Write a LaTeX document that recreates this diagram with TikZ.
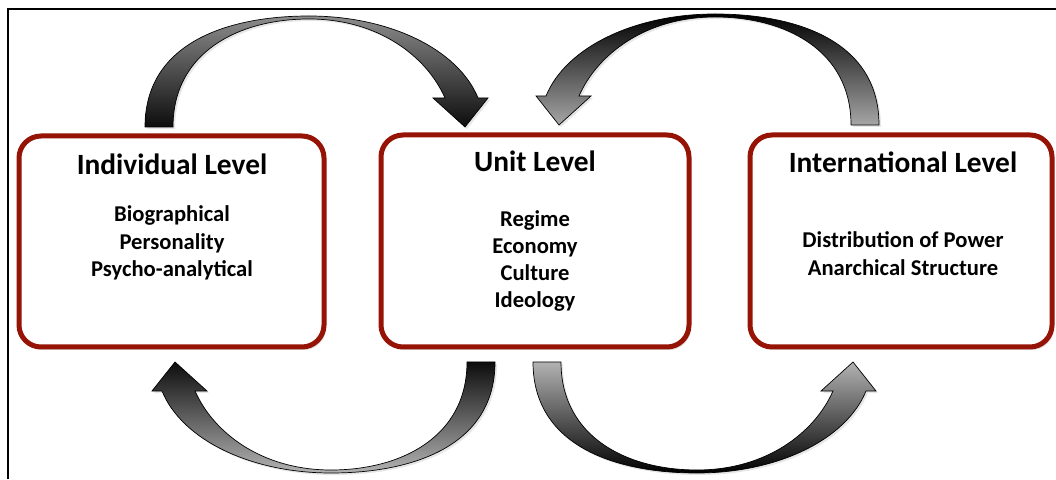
\documentclass[tikz,border=0pt]{standalone}
\usepackage{fontspec}
\setmainfont{Carlito}
\usepackage{tikz}
\usetikzlibrary{shadows}

\definecolor{boxred}{RGB}{150,20,5}

% one curved block arrow, tail centre at the origin, tip at (306,0)
\newcommand{\curvedarrow}[2]{%
  \begin{scope}[#1]
    \path [arr, #2]
      (-14,0) .. controls (-14,85) and (70,111) .. (150,111)
              .. controls (230,111) and (299,78) .. (319,29)
      -- (329,29) -- (306,0) -- (274,29) -- (286,29)
              .. controls (268,70) and (220,108) .. (150,108)
              .. controls (80,108) and (14,75) .. (14,0) -- cycle;
  \end{scope}}

\begin{document}
\begin{tikzpicture}[x=1pt,y=1pt,
    levelbox/.style={draw=boxred, line width=5pt, fill=white, rounded corners=22pt,
                     inner sep=0pt,
                     drop shadow={opacity=0.25, shadow xshift=2pt, shadow yshift=-3pt}},
    title/.style={font=\fontsize{29.4}{35}\selectfont\bfseries, anchor=base, inner sep=0pt},
    item/.style={font=\fontsize{22.6}{27}\selectfont\bfseries, anchor=base, inner sep=0pt},
    arr/.style={draw=black, line width=0.7pt,
                drop shadow={opacity=0.2, shadow xshift=2pt, shadow yshift=-2pt}}]

    \useasboundingbox (0,0) rectangle (1056,479);

    % frame
    \draw [line width=1.5pt] (8,0) -- (8,470) -- (1056,470);

    % the three levels
    \node [levelbox, minimum width=305pt, minimum height=211pt] (indiv) at (171.5,237.5) {};
    \node [levelbox, minimum width=308pt, minimum height=212pt] (unit)  at (535,238) {};
    \node [levelbox, minimum width=302pt, minimum height=212pt] (intl)  at (901,238) {};

    \node [title] (indivT) at (172,304) {Individual Level};
    \node [title] (unitT)  at (535,307) {Unit Level};
    \node [title] (intlT)  at (903,306) {International Level};

    \foreach \t [count=\i] in {Biographical,Personality,Psycho-analytical}
        \node [item] (indiv-\i) at (172,{257-27.5*(\i-1)}) {\t};
    \foreach \t [count=\i] in {Regime,Economy,Culture,Ideology}
        \node [item] (unit-\i) at (535,{252-27*(\i-1)}) {\t};
    \foreach \t [count=\i] in {Distribution of Power,Anarchical Structure}
        \node [item] (intl-\i) at (903,{231-28*(\i-1)}) {\t};

    % arrows between the levels
    \coordinate (a1) at (159,352);
    \coordinate (a2) at (865,354);
    \coordinate (a3) at (481,117);
    \coordinate (a4) at (547,117);

    \curvedarrow{shift={(a1)}}{top color=black!45, bottom color=black!95}
    \curvedarrow{shift={(a2)}, xscale=-1}{top color=black, bottom color=black!35}
    \curvedarrow{shift={(a3)}, xscale=-1, yscale=-1}{top color=black!95, bottom color=black!30}
    \curvedarrow{shift={(a4)}, yscale=-1}{top color=black!30, bottom color=black}
\end{tikzpicture}
\end{document}
